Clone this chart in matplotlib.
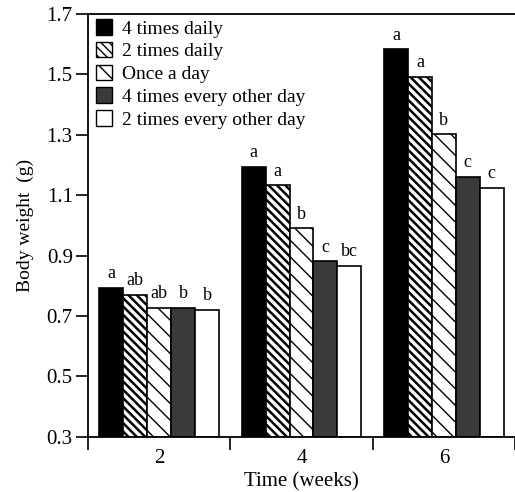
import matplotlib
matplotlib.use("Agg")
import matplotlib.pyplot as plt
import numpy as np
from matplotlib.patches import Patch

plt.rcParams['font.family'] = ['Liberation Serif', 'DejaVu Serif']

weeks = [2, 4, 6]
series_names = ["4 times daily", "2 times daily", "Once a day",
                "4 times every other day", "2 times every other day"]
four_daily = [0.794, 1.194, 1.583]
two_daily = [0.771, 1.132, 1.491]
once_daily = [0.727, 0.991, 1.302]
four_eod = [0.727, 0.881, 1.161]
two_eod = [0.721, 0.867, 1.124]
letters_four_daily = ["a", "a", "a"]
letters_two_daily = ["ab", "a", "a"]
letters_once_daily = ["ab", "b", "b"]
letters_four_eod = ["b", "c", "c"]
letters_two_eod = ["b", "bc", "c"]

values = [four_daily, two_daily, once_daily, four_eod, two_eod]
letters = [letters_four_daily, letters_two_daily, letters_once_daily,
           letters_four_eod, letters_two_eod]
styles = [
    dict(facecolor="black", hatch=None),
    dict(facecolor="white", hatch="\\\\\\\\"),
    dict(facecolor="white", hatch="\\\\"),
    dict(facecolor="#3a3a3a", hatch=None),
    dict(facecolor="white", hatch=None),
]
hatch_lw = [1.0, 1.8, 1.0, 1.0, 1.0]

fig = plt.figure(figsize=(5.15, 4.92), dpi=100)
ax = fig.add_axes([0.171, 0.112, 0.829, 0.860])

width = 0.336
x = np.array(weeks, dtype=float)
for i, (vals, st) in enumerate(zip(values, styles)):
    pos = x + (i - 2) * width
    bars = ax.bar(pos, np.array(vals) - 0.3, bottom=0.3, width=width,
                  facecolor=st["facecolor"], edgecolor="black",
                  linewidth=1.2, hatch=st["hatch"])
    for b in bars:
        if hasattr(b, "set_hatch_linewidth"):
            b.set_hatch_linewidth(hatch_lw[i])
    for p, v, t in zip(pos, vals, letters[i]):
        ax.annotate(t, (p, v), xytext=(0, 4), textcoords="offset points",
                    ha="center", va="bottom", fontsize=13)

ax.set_xlim(1, 7)
ax.set_ylim(0.3, 1.7)
ax.set_yticks([0.3, 0.5, 0.7, 0.9, 1.1, 1.3, 1.5, 1.7])
ax.set_yticklabels(["0.3", "0.5", "0.7", "0.9", "1.1", "1.3", "1.5", "1.7"],
                   fontsize=15)
ax.set_xticks(weeks)
ax.set_xticklabels([str(w) for w in weeks], fontsize=15)
ax.set_xticks([1, 3, 5, 7], minor=True)
ax.tick_params(axis="x", which="major", length=0, pad=9)
ax.tick_params(axis="x", which="minor", length=9, width=1.2, direction="out")
ax.tick_params(axis="y", which="major", length=9, width=1.2, direction="out", pad=2)
ax.spines["right"].set_visible(False)
for s in ["left", "top", "bottom"]:
    ax.spines[s].set_linewidth(1.3)

ax.set_xlabel("Time (weeks)", fontsize=15, labelpad=3)
ax.set_ylabel("Body weight  (g)", fontsize=14, labelpad=9)

handles = [Patch(facecolor=st["facecolor"], edgecolor="black", hatch=st["hatch"],
                 linewidth=1.0) for st in styles]
leg = ax.legend(handles, series_names, loc="upper left", frameon=False,
                fontsize=14, handlelength=0.85, handleheight=0.85,
                handletextpad=0.5, labelspacing=0.22,
                borderaxespad=0.0, bbox_to_anchor=(0.0, 1.006))

fig.savefig("out.png", dpi=100)
